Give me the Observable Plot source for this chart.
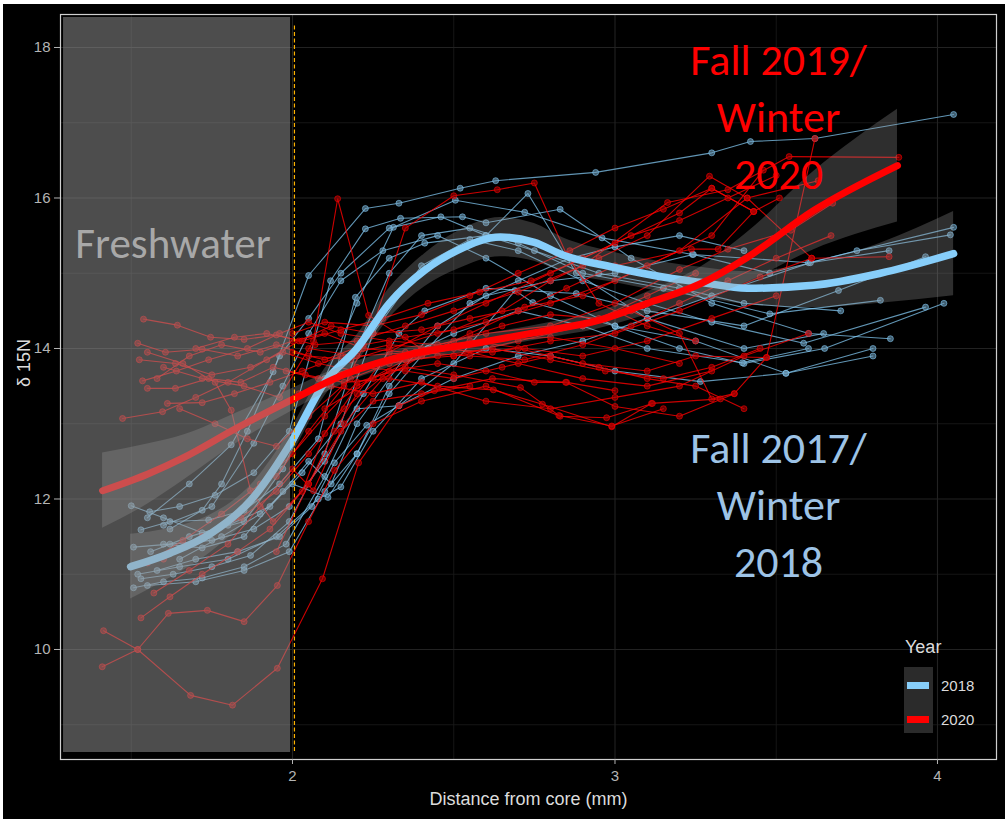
<!DOCTYPE html>
<html>
<head>
<meta charset="utf-8">
<script src="https://cdn.jsdelivr.net/npm/d3@7"></script>
<script src="https://cdn.jsdelivr.net/npm/@observablehq/plot@0.6"></script>
<style>
  html, body { margin: 0; padding: 0; background: #000; overflow: hidden; }
  #wrap { position: relative; width: 1005px; height: 819px; background: #000; overflow: hidden; }
  #chart { position: absolute; left: 3px; top: 4px; }
  .edgeL { position: absolute; left: 0; top: 0; width: 3px; height: 819px; background: #fff; }
  .edgeT { position: absolute; left: 0; top: 0; width: 1005px; height: 4px; background: #fff; }
  .lg { position: absolute; font-family: "Liberation Sans", Arial, sans-serif; color: #dcdcdc; white-space: nowrap; }
</style>
</head>
<body>
<div id="wrap">
  <div class="edgeL"></div>
  <div class="edgeT"></div>
  <div id="chart"></div>
  <div class="lg" style="left:905px; top:636px; font-size:18px; line-height:22px;">Year</div>
  <div style="position:absolute; left:904px; top:667px; width:29px; height:66px; background:#2b2b2b;"></div>
  <div id="k2018" style="position:absolute; left:907px; top:682px; width:22px; height:7px;"></div>
  <div id="k2020" style="position:absolute; left:907px; top:716px; width:22px; height:7px;"></div>
  <div class="lg" style="left:941px; top:676px; font-size:15px; line-height:20px;" id="l2018"></div>
  <div class="lg" style="left:941px; top:710px; font-size:15px; line-height:20px;" id="l2020"></div>
</div>
<script>
// ---------- data ----------
const years = ["2018", "2020"];
const yearColors = ["#87CEFA", "#FF0000"];

// individual fish profiles, 2018 (Fall 2017 / Winter 2018)
const fish2018 = [
  [[1.55,11.75],[1.68,12.2],[1.81,12.72],[1.94,13.69],[2.05,14.97],[2.226,15.86],[2.33,15.93],[2.52,16.13],[2.63,16.23],[2.94,16.34],[3.3,16.6],[3.42,16.75],[3.62,16.79],[4.05,17.11]],
  [[1.50,11.91],[1.6,11.75],[1.72,11.55],[1.85,11.7],[1.97,12.4],[2.1,13.6],[2.2,14.6],[2.313,15.61],[2.505,15.97],[2.72,15.81],[2.96,15.47],[3.24,15.25],[3.6,15.14],[4.05,15.61]],
  [[1.557,11.83],[1.65,11.9],[1.76,12.05],[1.88,12.35],[1.99,12.9],[2.118,14.9],[2.226,15.59],[2.335,15.73],[2.527,15.75],[2.6,15.67],[2.83,15.85],[3.05,15.2],[3.3,14.6],[3.6,14.2],[3.854,14.13]],
  [[1.53,11.59],[1.62,11.7],[1.74,11.72],[1.85,11.85],[1.96,12.2],[2.08,12.8],[2.195,14.68],[2.3,15.2],[2.41,15.4],[2.6,15.5],[2.73,16.06],[2.88,15.0],[3.1,14.4],[3.4,14.0],[3.647,14.2]],
  [[1.507,11.36],[1.62,11.4],[1.75,11.45],[1.88,11.6],[1.99,11.9],[2.1,12.5],[2.22,13.4],[2.33,14.2],[2.41,14.5],[2.6,14.8],[2.88,14.73],[3.1,14.5],[3.4,14.3],[3.693,14.77],[3.963,15.22]],
  [[1.507,10.82],[1.6,10.9],[1.72,10.95],[1.85,11.1],[1.98,11.4],[2.1,12.3],[2.2,13.2],[2.33,13.24],[2.5,13.8],[2.69,14.77],[2.745,14.61],[3.0,14.3],[3.25,14.1],[3.53,13.67],[3.8,13.9]],
  [[1.53,10.94],[1.63,11.0],[1.75,11.1],[1.87,11.25],[1.99,11.7],[2.1,12.6],[2.2,14.0],[2.3,15.0],[2.4,15.5],[2.55,15.6],[2.7,15.4],[2.9,15.0],[3.15,14.8],[3.48,14.46],[3.823,14.64]],
  [[1.55,10.85],[1.7,10.9],[1.85,11.05],[1.99,11.3],[2.1,12.1],[2.2,12.6],[2.3,13.5],[2.45,14.3],[2.6,14.7],[2.8,14.9],[3.0,15.0],[3.243,15.25],[3.48,15.0],[3.75,15.3],[4.04,15.51]],
  [[1.56,11.3],[1.68,11.5],[1.8,11.65],[1.93,11.9],[2.03,12.35],[2.15,13.0],[2.25,14.2],[2.4,15.1],[2.55,15.45],[2.7,15.3],[2.9,14.9],[3.1,14.6],[3.3,14.35],[3.585,14.07],[3.963,14.55]],
  [[1.6,11.65],[1.75,11.9],[1.88,12.74],[1.97,13.5],[2.05,14.2],[2.15,14.9],[2.28,15.3],[2.45,15.5],[2.6,15.2],[2.8,14.7],[3.0,14.3],[3.2,14.0],[3.4,13.8],[3.65,14.0],[4.02,14.6]],
  [[1.62,11.6],[1.72,11.85],[1.78,12.2],[1.86,12.9],[1.96,13.9],[2.05,14.4],[2.15,15.0],[2.3,15.6],[2.46,15.75],[2.6,15.5],[2.75,15.3],[2.95,15.0],[3.2,14.8],[3.4,14.6],[3.7,14.5]],
  [[1.52,11.0],[1.65,11.1],[1.8,11.2],[1.95,11.5],[2.08,12.0],[2.15,12.16],[2.25,12.9],[2.4,13.6],[2.6,14.0],[2.8,13.9],[3.0,13.7],[3.265,13.56],[3.53,13.67],[3.8,14.0]],
  [[1.6,11.4],[1.72,11.35],[1.85,11.5],[1.97,12.1],[2.05,12.5],[2.12,12.2],[2.2,13.0],[2.35,13.9],[2.5,14.2],[2.7,14.5],[2.9,14.3],[3.1,14.0],[3.395,13.81],[3.6,14.0]],
  [[1.58,11.05],[1.7,11.2],[1.83,11.3],[1.96,11.5],[2.06,11.9],[2.13,12.48],[2.23,12.98],[2.33,13.24],[2.5,13.6],[2.7,13.9],[2.9,14.1],[3.1,14.4],[3.3,14.7],[3.606,15.14],[3.85,15.3]],
  [[1.65,11.2],[1.78,11.5],[1.9,11.8],[2.0,12.2],[2.11,12.02],[2.2,12.6],[2.3,13.4],[2.42,14.0],[2.55,14.6],[2.7,14.9],[2.86,15.2],[3.0,15.35],[3.2,15.5],[3.4,15.3]]
];

// individual fish profiles, 2020 (Fall 2019 / Winter 2020)
const fish2020 = [
  [[1.538,14.39],[1.643,14.31],[1.746,14.15],[1.85,14.12],[1.95,14.18],[2.07,14.05],[2.2,14.1],[2.35,14.3],[2.5,14.5],[2.7,14.75],[2.9,15.1],[3.163,15.94],[3.35,16.11],[3.54,16.55],[3.88,16.54]],
  [[1.52,14.07],[1.606,13.95],[1.72,13.99],[1.83,13.9],[1.95,14.05],[2.05,13.9],[2.18,13.85],[2.3,14.0],[2.45,14.2],[2.6,14.35],[2.8,14.6],[3.0,14.9],[3.2,15.3],[3.41,16.0],[3.63,16.23]],
  [[1.525,13.85],[1.637,13.8],[1.75,13.65],[1.87,13.75],[1.97,13.95],[2.08,13.8],[2.2,13.7],[2.35,13.85],[2.5,13.9],[2.7,14.0],[2.9,13.8],[3.1,13.7],[3.25,13.9],[3.47,13.88]],
  [[1.535,13.57],[1.64,13.7],[1.74,13.85],[1.86,14.0],[1.96,14.2],[2.05,14.35],[2.15,14.2],[2.3,14.1],[2.45,14.05],[2.6,14.2],[2.8,14.3],[3.0,14.6],[3.2,15.05],[3.35,15.32],[3.545,15.57],[3.675,15.93]],
  [[1.55,13.47],[1.637,13.47],[1.74,13.6],[1.84,13.55],[1.94,13.75],[2.04,13.65],[2.16,13.55],[2.3,13.6],[2.45,13.5],[2.623,13.45],[2.775,13.26],[2.99,12.96],[3.113,13.27],[3.327,13.33]],
  [[1.612,13.27],[1.72,13.28],[1.82,13.4],[1.93,13.55],[2.03,13.7],[2.15,13.9],[2.3,14.05],[2.45,14.0],[2.62,13.95],[2.8,14.1],[3.0,14.2],[3.2,14.5],[3.45,14.95],[3.61,15.2],[3.85,15.22]],
  [[1.473,13.07],[1.597,13.16],[1.7,13.35],[1.8,13.55],[1.92,13.85],[2.02,14.1],[2.12,14.3],[2.25,14.2],[2.4,14.25],[2.55,14.4],[2.72,14.55],[2.9,14.7],[3.1,15.1],[3.3,15.5],[3.46,16.37]],
  [[1.6,13.75],[1.72,13.6],[1.85,13.5],[1.96,13.35],[2.065,14.1],[2.14,15.99],[2.236,14.44],[2.4,14.0],[2.6,14.1],[2.8,14.15],[3.0,14.0],[3.2,13.8]],
  [[1.95,12.3],[2.05,12.9],[2.16,13.5],[2.25,14.3],[2.35,15.6],[2.5,16.03],[2.635,16.11],[2.75,16.2],[2.85,15.25],[2.95,14.6],[3.1,14.3],[3.25,14.1]],
  [[1.414,10.25],[1.52,10.0],[1.684,9.39],[1.814,9.26],[1.953,9.75],[2.093,10.94],[2.205,12.48],[2.33,13.24],[2.44,13.44],[2.62,13.6],[2.85,13.55],[3.0,13.44]],
  [[1.41,9.77],[1.52,10.0],[1.615,10.48],[1.736,10.52],[1.85,10.37],[1.953,10.85],[2.05,11.7],[2.13,12.38],[2.25,13.0],[2.4,13.3],[2.6,13.5],[2.83,13.1],[2.974,13.08],[3.116,13.27]],
  [[1.53,10.42],[1.62,10.7],[1.72,11.0],[1.83,11.3],[1.93,11.6],[2.03,12.1],[2.1,12.87],[2.2,13.5],[2.35,13.85],[2.5,14.0],[2.7,13.8],[2.9,13.6],[3.1,13.5],[3.3,13.7]],
  [[1.57,10.75],[1.68,11.05],[1.8,11.4],[1.9,11.9],[2.0,12.4],[2.065,12.11],[2.16,13.0],[2.28,13.6],[2.4,13.9],[2.55,14.1],[2.72,14.0],[2.9,13.9],[3.1,14.1],[3.3,14.4],[3.5,14.7]],
  [[1.6,11.2],[1.72,11.5],[1.84,11.75],[1.95,12.1],[2.05,12.6],[2.16,13.2],[2.3,13.7],[2.45,13.8],[2.6,13.7],[2.75,13.55],[2.847,13.55],[3.0,13.23],[3.2,13.1],[3.37,13.4]],
  [[1.55,11.15],[1.66,11.45],[1.78,11.8],[1.9,12.2],[2.0,12.6],[2.1,13.1],[2.2,13.55],[2.35,13.75],[2.5,13.65],[2.707,13.48],[2.826,13.11],[2.99,12.97],[3.15,13.2]],
  [[1.95,11.3],[2.05,12.2],[2.13,12.9],[2.2,13.4],[2.3,13.95],[2.45,14.3],[2.6,14.6],[2.8,15.0],[3.0,15.4],[3.2,15.8],[3.3,16.13],[3.43,15.82],[3.51,16.0]],
  [[1.65,13.2],[1.76,13.0],[1.86,12.8],[1.95,12.7],[2.05,13.1],[2.18,13.6],[2.3,13.8],[2.45,13.9],[2.62,14.0],[2.8,13.85],[2.97,13.7],[3.15,13.6],[3.3,13.75],[3.45,14.0]],
  [[2.0,13.95],[2.1,13.85],[2.22,14.05],[2.35,14.15],[2.5,14.25],[2.65,14.5],[2.8,14.9],[2.95,15.2],[3.1,15.5],[3.293,16.29],[3.41,16.0],[3.61,15.2]],
  [[2.0,14.2],[2.1,14.35],[2.25,14.3],[2.4,14.45],[2.55,14.7],[2.7,15.0],[2.86,15.3],[3.0,15.6],[3.15,15.85],[3.3,16.13],[3.43,15.82]],
  [[1.98,13.7],[2.08,13.6],[2.2,13.75],[2.35,13.7],[2.5,13.6],[2.65,13.75],[2.8,13.9],[2.95,13.75],[3.1,13.6],[3.25,13.5],[3.4,13.2]],
  [[2.5,13.9],[2.7,14.1],[2.9,14.3],[3.05,14.5],[3.2,14.2],[3.3,13.33],[3.37,13.4],[3.47,13.88],[3.62,16.79]],
  [[2.02,13.4],[2.12,13.5],[2.25,13.4],[2.4,13.55],[2.6,13.3],[2.8,13.2],[3.0,13.35],[3.2,13.5],[3.4,13.9],[3.6,14.2]],
  [[2.05,14.0],[2.2,13.9],[2.38,13.95],[2.55,13.9],[2.72,13.85],[2.9,14.05],[3.05,14.3],[3.2,14.6],[3.35,14.9],[3.5,15.2],[3.67,15.5]],
  [[1.55,13.95],[1.66,13.8],[1.76,13.55],[1.81,13.18],[1.87,12.11],[1.94,11.7],[2.05,12.2],[2.15,12.9],[2.25,13.3],[2.4,13.4],[2.55,13.5]],
  [[2.1,13.2],[2.25,13.6],[2.4,13.9],[2.55,14.2],[2.7,14.5],[2.85,14.8],[3.0,15.1],[3.237,15.32],[3.32,15.32],[3.43,15.82]],
  [[1.58,13.6],[1.68,13.9],[1.78,14.05],[1.9,13.95],[2.0,14.1],[2.1,14.2],[2.22,14.0],[2.35,13.95],[2.5,14.1],[2.65,14.3],[2.8,14.45],[2.95,14.4],[3.1,14.7],[3.25,15.0]],
  [[1.7,14.0],[1.82,14.15],[1.92,14.2],[2.03,14.1],[2.15,14.25],[2.28,14.4],[2.42,14.6],[2.58,14.75],[2.74,14.9],[2.9,15.2],[3.05,15.5],[3.2,15.7],[3.35,16.0],[3.5,16.3]]
];

// loess fits (x, fitted value, half-width of the band)
const smooth2018X  = [1.498,1.62,1.746,1.87,1.994,2.10,2.20,2.30,2.41,2.51,2.645,2.75,2.84,2.995,3.163,3.265,3.41,3.615,3.823,4.05];
const smooth2018Y  = [11.10,11.28,11.54,11.98,12.74,13.55,14.0,14.60,15.04,15.30,15.48,15.41,15.24,15.08,14.94,14.88,14.80,14.84,15.00,15.26];
const smooth2018SE = [0.43,0.33,0.25,0.2,0.18,0.18,0.18,0.2,0.22,0.25,0.26,0.25,0.23,0.2,0.2,0.2,0.22,0.3,0.4,0.56];

const smooth2020X  = [1.411,1.55,1.662,1.83,1.994,2.17,2.375,2.583,2.79,2.946,3.10,3.265,3.41,3.615,3.876];
const smooth2020Y  = [12.11,12.33,12.55,12.95,13.31,13.67,13.93,14.08,14.24,14.37,14.60,14.86,15.21,15.83,16.43];
const smooth2020SE = [0.5,0.4,0.3,0.2,0.15,0.12,0.1,0.1,0.1,0.11,0.15,0.22,0.33,0.52,0.75];

const xTicks = [2, 3, 4];
const xMinor = [1.5, 2.5, 3.5];
const yTicks = [10, 12, 14, 16, 18];
const yMinor = [9, 11, 13, 15, 17];

// ---------- build tables ----------
const toRows = (series, year) => series.flatMap((s, i) => s.map(([x, y]) => ({year, id: year + "-" + i, x, y})));
const rows2018 = toRows(fish2018, "2018");
const rows2020 = toRows(fish2020, "2020");
const sm = (X, Y, S) => X.map((x, i) => ({x, y: Y[i], lo: Y[i] - S[i], hi: Y[i] + S[i]}));
const sm2018 = sm(smooth2018X, smooth2018Y, smooth2018SE);
const sm2020 = sm(smooth2020X, smooth2020Y, smooth2020SE);

const freshwater = {x1: 1.29, x2: 1.994, y1: 8.631, y2: 18.399};
const coreEdge = {x: 2.006, y1: 8.645, y2: 18.29};

const SANS = '"Liberation Sans", Arial, sans-serif';
const ANNOT = 'Carlito, Lato, "Open Sans", sans-serif';
const [cBlue, cRed] = yearColors;

const chart = Plot.plot({
  width: 1002,
  height: 815,
  marginLeft: 57,
  marginRight: 9,
  marginTop: 10,
  marginBottom: 60,
  style: {background: "#000", color: "#b4b4b4", fontFamily: SANS, overflow: "visible"},
  x: {domain: [1.2806, 4.183]},
  y: {domain: [8.538, 18.4385]},
  marks: [
    Plot.gridX(xMinor, {stroke: "#1a1a1a", strokeOpacity: 1, strokeWidth: 0.8}),
    Plot.gridY(yMinor, {stroke: "#1a1a1a", strokeOpacity: 1, strokeWidth: 0.8}),
    Plot.gridX(xTicks, {stroke: "#222", strokeOpacity: 1, strokeWidth: 1.1}),
    Plot.gridY(yTicks, {stroke: "#222", strokeOpacity: 1, strokeWidth: 1.1}),

    Plot.line(rows2018, {x: "x", y: "y", z: "id", stroke: cBlue, strokeOpacity: 0.72, strokeWidth: 1.1}),
    Plot.dot(rows2018, {x: "x", y: "y", r: 3, fill: "#6d9cba", fillOpacity: 0.6, stroke: cBlue, strokeOpacity: 0.55, strokeWidth: 1}),
    Plot.line(rows2020, {x: "x", y: "y", z: "id", stroke: cRed, strokeOpacity: 0.8, strokeWidth: 1.1}),
    Plot.dot(rows2020, {x: "x", y: "y", r: 3, fill: "#b00000", fillOpacity: 0.6, stroke: cRed, strokeOpacity: 0.55, strokeWidth: 1}),

    Plot.areaY(sm2018, {x: "x", y1: "lo", y2: "hi", fill: "#999", fillOpacity: 0.3, curve: "monotone-x"}),
    Plot.line(sm2018, {x: "x", y: "y", stroke: cBlue, strokeWidth: 7.5, curve: "monotone-x"}),
    Plot.areaY(sm2020, {x: "x", y1: "lo", y2: "hi", fill: "#999", fillOpacity: 0.3, curve: "monotone-x"}),
    Plot.line(sm2020, {x: "x", y: "y", stroke: cRed, strokeWidth: 7, curve: "monotone-x"}),

    Plot.rect([freshwater], {x1: "x1", x2: "x2", y1: "y1", y2: "y2", fill: "#9a9a9a", fillOpacity: 0.5}),
    Plot.ruleX([coreEdge], {x: "x", y1: "y1", y2: "y2", stroke: "#FFB300", strokeWidth: 1.2, strokeDasharray: "4,2.5"}),

    Plot.text(["Freshwater"], {x: 1.6295, y: 15.196, lineAnchor: "bottom", textAnchor: "middle", fontSize: 43, fontFamily: ANNOT, fill: "#a8a8a8"}),
    Plot.text(["Fall 2019/\nWinter\n2020"], {x: 3.507, y: 16.113, lineAnchor: "bottom", lineHeight: 1.3, textAnchor: "middle", fontSize: 44, fontFamily: ANNOT, fill: "#FF0000"}),
    Plot.text(["Fall 2017/\nWinter\n2018"], {x: 3.507, y: 10.957, lineAnchor: "bottom", lineHeight: 1.3, textAnchor: "middle", fontSize: 44, fontFamily: ANNOT, fill: "#9DC3E6"}),

    Plot.frame({stroke: "#cfcfcf", strokeWidth: 1.2}),
    Plot.axisX(xTicks, {tickSize: 5, tickPadding: 6, fontSize: 15, color: "#b4b4b4", label: null, tickFormat: d => String(d)}),
    Plot.axisY(yTicks, {tickSize: 6, tickPadding: 4, fontSize: 15, color: "#b4b4b4", label: null, tickFormat: d => String(d)}),
    Plot.text(["Distance from core (mm)"], {frameAnchor: "bottom", dy: 45, fontSize: 18, fill: "#dcdcdc"}),
    Plot.text(["δ 15N"], {frameAnchor: "left", dx: -36, rotate: -90, fontSize: 18, fill: "#dcdcdc"})
  ]
});
document.getElementById("chart").appendChild(chart);

// legend (Year)
document.getElementById("k2018").style.background = cBlue;
document.getElementById("k2020").style.background = cRed;
document.getElementById("l2018").textContent = years[0];
document.getElementById("l2020").textContent = years[1];
</script>
</body>
</html>
